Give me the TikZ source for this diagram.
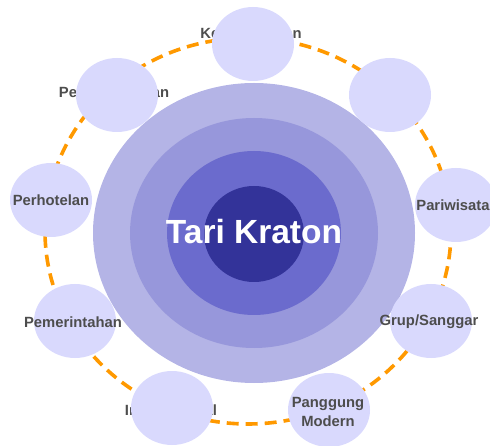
\documentclass[tikz,border=0pt]{standalone}
\usepackage{fontspec}
\setmainfont{Liberation Sans}
\usetikzlibrary{shapes.geometric}
\definecolor{ringA}{HTML}{B4B4E6}
\definecolor{ringB}{HTML}{9797DB}
\definecolor{ringC}{HTML}{6B6BCD}
\definecolor{ringD}{HTML}{333399}
\definecolor{satfill}{HTML}{D9D9FD}
\definecolor{txtgray}{HTML}{4D4D4D}
\definecolor{dashorange}{HTML}{FF9900}
\begin{document}
\begin{tikzpicture}[x=1pt,y=-1pt,
  lbl/.style={font=\fontsize{14.8}{17}\selectfont\bfseries, text=txtgray, inner sep=0pt, align=center},
  sat/.style={ellipse, fill=satfill, draw=none, minimum width=82pt, minimum height=74pt, inner sep=0pt},
  orbit/.style={draw=dashorange, line width=3.6pt, dash pattern=on 12pt off 7pt},
  ring/.style={draw=none}]
\useasboundingbox (0,0) rectangle (490,446);
% dashed orbit
\draw[orbit] (248,231) ellipse [x radius=203pt, y radius=193pt];
% concentric rings
\fill[ringA] (254,233) ellipse [x radius=161pt, y radius=150pt];
\fill[ringB] (254,233) ellipse [x radius=124pt, y radius=115pt];
\fill[ringC] (254,233) ellipse [x radius=87pt, y radius=82pt];
\fill[ringD] (254,234) ellipse [x radius=50pt, y radius=48pt];
\node[font=\fontsize{33.5}{36}\selectfont\bfseries, text=white, inner sep=0pt] (center) at (254,232) {Tari Kraton};
% texts hidden under satellites
\node[lbl] (t1) at (251,35) {Kesejahteraan};
\node[lbl] (t2) at (114,94) {Pengembangan};
\node[lbl] (t5) at (171,410) {Internasional};
% satellites
\node[sat] (s1) at (253,44) {};
\node[sat] (s2) at (117,95) {};
\node[sat] (s9) at (390,95) {};
\node[sat] (s3) at (51,200) {};
\node[sat] (s4) at (75,321) {};
\node[sat] (s5) at (172,408) {};
\node[sat] (s6) at (329,410) {};
\node[sat] (s7) at (456,205) {};
\node[sat] (s8) at (431,321) {};
% visible texts
\node[lbl] (t3) at (51,200) {Perhotelan};
\node[lbl] (t4) at (73,322) {Pemerintahan};
\node[lbl, font=\fontsize{14.8}{19}\selectfont\bfseries] (t6) at (328,412) {Panggung\\Modern};
\node[lbl] (t7) at (453,205) {Pariwisata};
\node[lbl] (t8) at (429,322) {Grup/Sanggar};
\end{tikzpicture}
\end{document}
